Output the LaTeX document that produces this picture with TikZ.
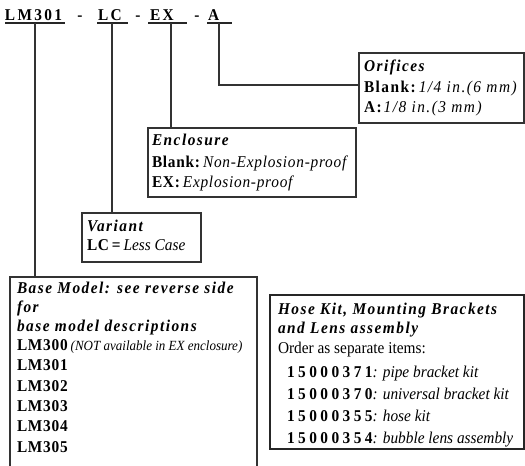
\documentclass[tikz,border=0pt]{standalone}
\usepackage{fontspec}
\setmainfont{Liberation Serif}[FakeStretch=0.93]
\newfontfamily\hdfont{Liberation Serif}[FakeStretch=0.93,LetterSpace=9]
\newfontfamily\spfont{Liberation Serif}[FakeStretch=0.93,LetterSpace=4.5]
\newfontfamily\numfont{Liberation Serif}[FakeStretch=0.93,LetterSpace=21]
\newfontfamily\titfont{Liberation Serif}[FakeStretch=0.93,LetterSpace=14]
\newcommand\hd[1]{{\hdfont\bfseries\itshape #1}}
\newcommand\hdb[1]{{\hdfont\bfseries #1}}
\newcommand\hdi[1]{{\hdfont\itshape #1}}
\newcommand\bsp[1]{{\spfont\bfseries #1}}
\newcommand\isp[1]{{\spfont\itshape #1}}
\newcommand\nump[1]{{\numfont\bfseries #1}}
\begin{document}
\begin{tikzpicture}[x=1pt,y=-1pt,
  every node/.style={inner sep=0pt,outer sep=0pt},
  txt/.style={anchor=base west,font=\fontsize{16.5}{19}\selectfont,text=black},
  tit/.style={anchor=base west,font=\fontsize{16.5}{19}\selectfont\titfont\bfseries,text=black},
  boxed/.style={draw=black!80,line width=1.2pt,anchor=north west},
  hosebox/.style={draw=black!85,line width=2.2pt,anchor=north west},
  conn/.style={draw=black!80,line width=1.1pt},
  uline/.style={draw=black!85,line width=1.1pt}]
\useasboundingbox (0,0) rectangle (525,466);

% title
\node[tit] (t1) at (5,20) {LM301};
\node[tit,anchor=base] (d1) at (80,20) {-};
\node[tit] (t2) at (98,20) {LC};
\node[tit,anchor=base] (d2) at (138,20) {-};
\node[tit] (t3) at (150,20) {EX};
\node[tit,anchor=base] (d3) at (197,20) {-};
\node[tit] (t4) at (208,20) {A};
\draw[uline] (5,23) -- (65,23);
\draw[uline] (97,23) -- (128,23);
\draw[uline] (148,23) -- (187,23);
\draw[uline] (207,23) -- (232,23);
\coordinate (c1) at (35,23);
\coordinate (c2) at (112,23);
\coordinate (c3) at (171,23);
\coordinate (c4) at (219,23);

% boxes
\node[boxed,minimum width=165pt,minimum height=70pt] (orif) at (359,53) {};
\node[boxed,minimum width=208pt,minimum height=69pt] (encl) at (148,128) {};
\node[boxed,minimum width=119pt,minimum height=49pt] (vari) at (82,213) {};
\node[anchor=north west,minimum width=247pt,minimum height=200pt] (base) at (10,277) {};
\draw[boxed] (base.south west) |- (base.north east) -- (base.south east);
\node[hosebox,minimum width=254pt,minimum height=154pt] (hose) at (270,295) {};

% connectors
\draw[conn] (c1) -- (c1 |- base.north);
\draw[conn] (c2) -- (c2 |- vari.north);
\draw[conn] (c3) -- (c3 |- encl.north);
\draw[conn] (c4) |- ([yshift=3pt]orif.west);

% Orifices
\node[txt] (o1) at (364,71) {\hd{Orifices}};
\node[txt] (o2) at (364,92) {\hdb{Blank:}\hspace{3pt}\hdi{1/4 in.(6 mm)}};
\node[txt] (o3) at (364,112) {\hdb{A:}\hspace{2pt}\hdi{1/8 in.(3 mm)}};

% Enclosure
\node[txt] (e1) at (152,145) {\hd{Enclosure}};
\node[txt] (e2) at (152,167) {\bsp{Blank:}\hspace{3pt}\isp{Non-Explosion-proof}};
\node[txt] (e3) at (152,187) {\bsp{EX:}\hspace{3pt}\isp{Explosion-proof}};

% Variant
\node[txt] (v1) at (87,231) {\hd{Variant}};
\node[txt] (v2) at (87,250) {\bsp{LC\,=}\hspace{3pt}\textit{Less Case}};

% Base model
\node[txt] (b1) at (17,293) {\hd{Base Model: see reverse side}};
\node[txt] (b2) at (17,312) {\hd{for}};
\node[txt] (b3) at (17,331) {\hd{base model descriptions}};
\node[txt] (b4) at (17,350) {\bsp{LM300}\hspace{3pt}{\fontsize{14}{16}\selectfont\itshape (NOT available in EX enclosure)}};
\node[txt] (b5) at (17,370.5) {\bsp{LM301}};
\node[txt] (b6) at (17,391) {\bsp{LM302}};
\node[txt] (b7) at (17,411) {\bsp{LM303}};
\node[txt] (b8) at (17,431.5) {\bsp{LM304}};
\node[txt] (b9) at (17,452) {\bsp{LM305}};

% Hose kit
\node[txt] (h1) at (278,314) {\hd{Hose Kit, Mounting Brackets}};
\node[txt] (h2) at (278,333.5) {\hd{and Lens assembly}};
\node[txt] (h3) at (278,353) {Order as separate items:};
\node[txt] (h4) at (287,377) {\nump{15000371}\textit{: pipe bracket kit}};
\node[txt] (h5) at (287,399) {\nump{15000370}\textit{: universal bracket kit}};
\node[txt] (h6) at (287,421) {\nump{15000355}\textit{: hose kit}};
\node[txt] (h7) at (287,443) {\nump{15000354}\textit{: bubble lens assembly}};
\end{tikzpicture}
\end{document}
